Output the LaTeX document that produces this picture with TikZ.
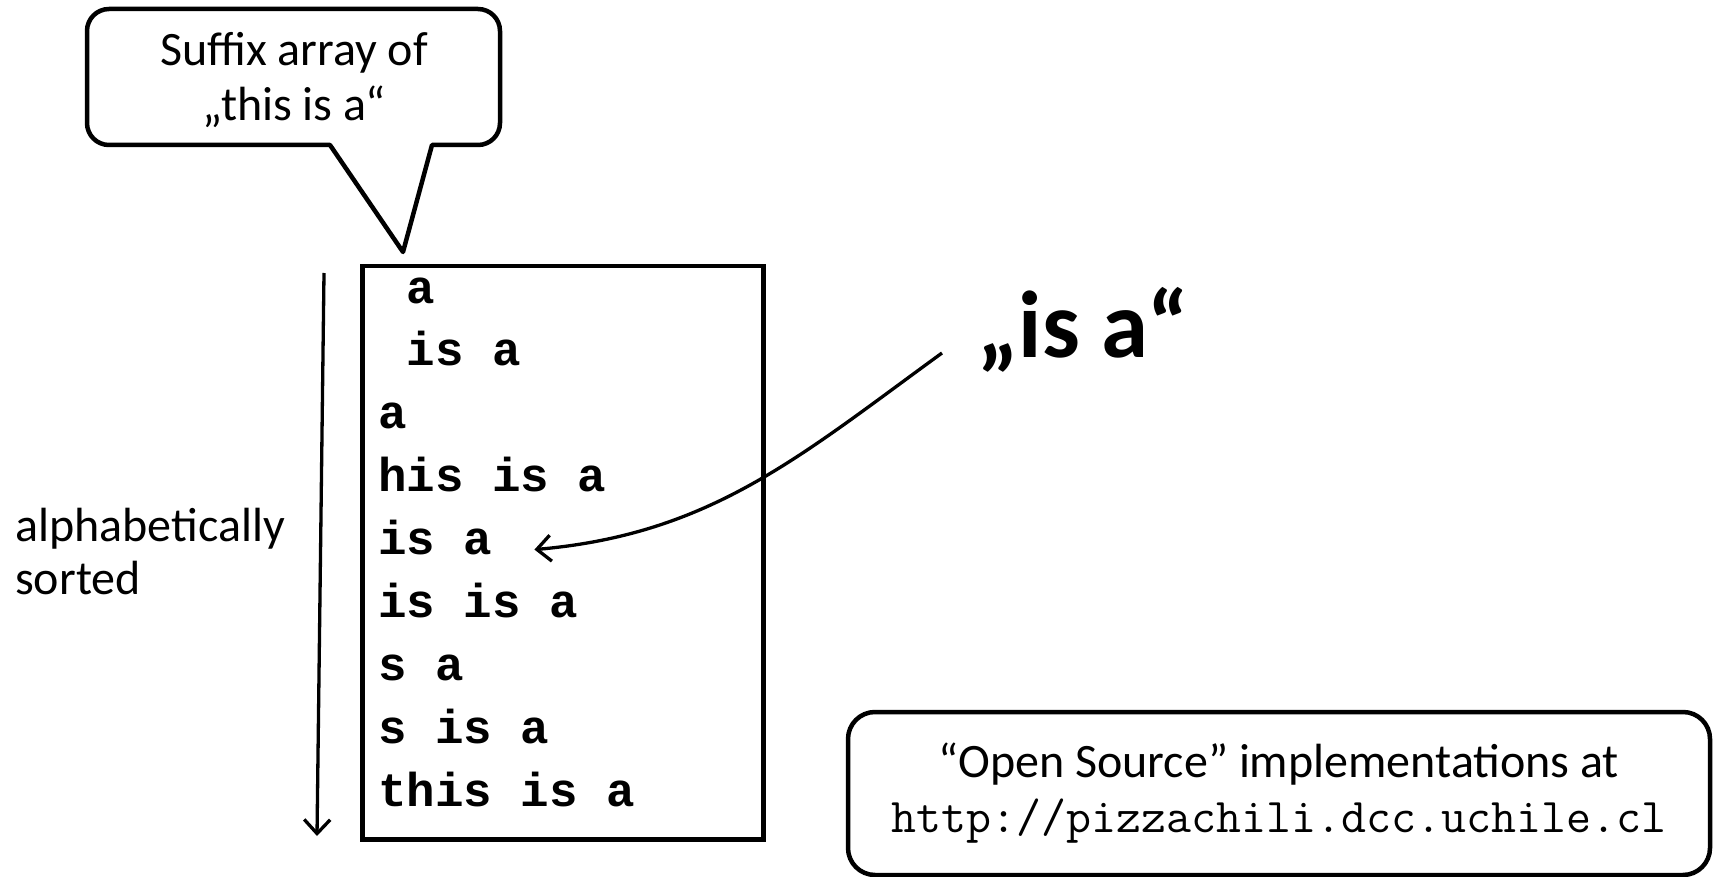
\documentclass[tikz,border=0pt]{standalone}
\usepackage{fontspec}
\setmainfont{Carlito}
\newfontfamily\monofont{Liberation Mono}
\usetikzlibrary{arrows.meta}
\begin{document}
\begin{tikzpicture}[x=1pt,y=-1pt,
  row/.style={anchor=base west, inner sep=0pt, font=\monofont\bfseries\fontsize{47.5}{50}\selectfont},
  conn/.style={line width=3.3pt, -{Straight Barb[length=14pt,width=26pt,line width=3.3pt]}},
  border/.style={line width=4.5pt}
]
\useasboundingbox (0,0) rectangle (1713,877);

% callout
\draw[border, line join=round] (403,252) -- (330,145) [rounded corners=22pt] -- (87,145) -- (87,9) -- (500,9) -- (500,145) [sharp corners] -- (432,145) -- cycle;
\node[align=center, font=\fontsize{48}{55}\selectfont] (callout) at (294,80) {Suffix array of\\„this is a“};

% suffix array box
\node[draw, border, minimum width=401pt, minimum height=573pt, anchor=north west, inner sep=0pt] (sa) at (360,264) {};
\node[row] (r1) at (378,303) {\ a};
\node[row] (r2) at (378,365.9) {\ is a};
\node[row] (r3) at (378,428.8) {a};
\node[row] (r4) at (378,491.7) {his is a};
\node[row] (r5) at (378,554.6) {is a};
\node[row] (r6) at (378,617.5) {is is a};
\node[row] (r7) at (378,680.4) {s a};
\node[row] (r8) at (378,743.3) {s is a};
\node[row] (r9) at (378,806.2) {this is a};

% query
\node[font=\bfseries\fontsize{95}{100}\selectfont, inner sep=0pt, anchor=base] (query) at (1083,357) {„is a“};
\coordinate (qs) at (942,353);
\draw[conn] (qs) to[out=216,in=5] ([shift={(42,-5)}]r5.base east);

% sorted arrow
\coordinate (ds) at (324,273);
\coordinate (de) at (317,836);
\draw[conn] (ds) -- (de);
\node[align=left, anchor=west, font=\fontsize{48}{53}\selectfont, inner sep=0pt] (lab) at (15,552) {alphabetically\\sorted};

% bottom box
\node[draw, border, rounded corners=27pt, minimum width=862pt, minimum height=163pt, align=center, font=\fontsize{48}{55}\selectfont] (oss) at (1279,793.5) {“Open Source” implementations at\\{\ttfamily\fontsize{48.5}{55}\selectfont http://pizzachili.dcc.uchile.cl}};
\end{tikzpicture}
\end{document}
